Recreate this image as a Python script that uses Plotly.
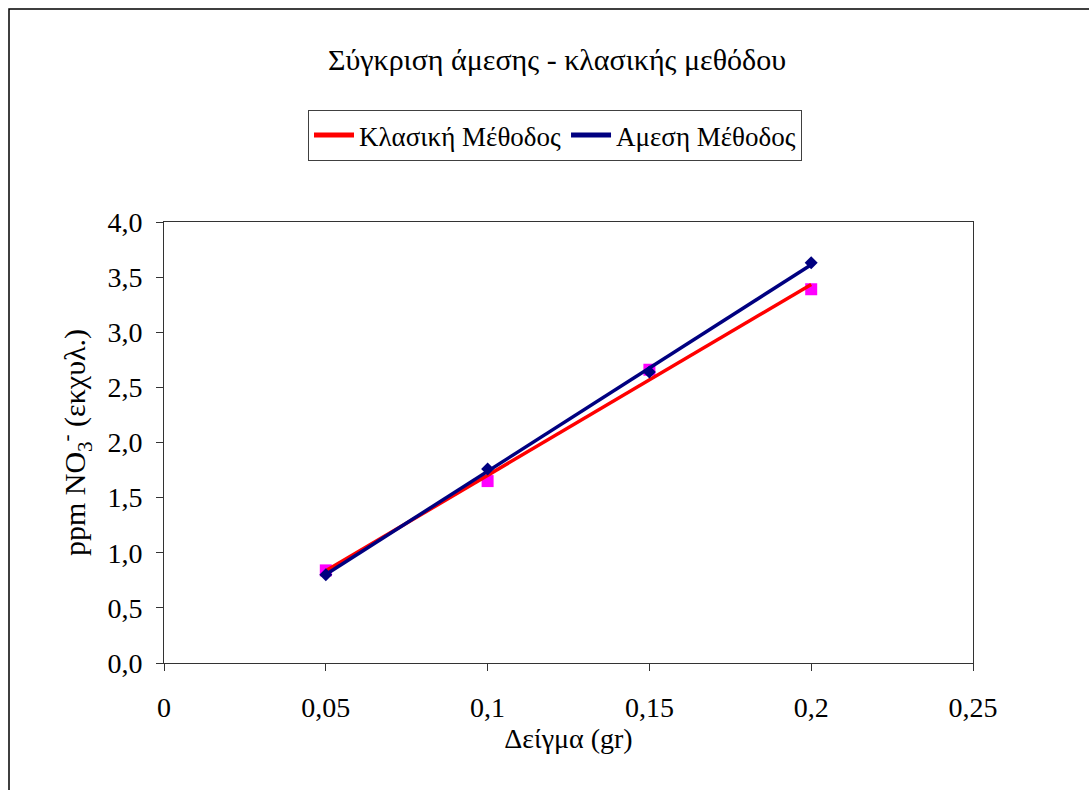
import numpy as np
import plotly.graph_objects as go

# Data
sample_gr = [0.05, 0.10, 0.15, 0.20]
classic_ppm = [0.84, 1.65, 2.66, 3.39]   # Κλασική Μέθοδος (magenta squares)
direct_ppm = [0.80, 1.76, 2.64, 3.63]    # Άμεση Μέθοδος (navy diamonds)

x_tickvals = [0, 0.05, 0.10, 0.15, 0.20, 0.25]
x_ticktext = ["0", "0,05", "0,1", "0,15", "0,2", "0,25"]
y_tickvals = [0.0, 0.5, 1.0, 1.5, 2.0, 2.5, 3.0, 3.5, 4.0]
y_ticktext = ["0,0", "0,5", "1,0", "1,5", "2,0", "2,5", "3,0", "3,5", "4,0"]

FONT = "Liberation Serif"

# Linear trendlines (as Excel draws them)
xs = np.array(sample_gr)
x_end = [float(xs.min()), float(xs.max())]
c_fit = np.polyfit(xs, np.array(classic_ppm), 1)
d_fit = np.polyfit(xs, np.array(direct_ppm), 1)

fig = go.Figure()
fig.add_trace(go.Scatter(x=sample_gr, y=classic_ppm, mode="markers",
                         marker=dict(symbol="square", size=12, color="#FF00FF"),
                         showlegend=False, hoverinfo="skip"))
fig.add_trace(go.Scatter(x=x_end, y=[float(v) for v in np.polyval(c_fit, x_end)], mode="lines",
                         line=dict(color="#FF0000", width=3.5),
                         name="Κλασική Μέθοδος"))
fig.add_trace(go.Scatter(x=x_end, y=[float(v) for v in np.polyval(d_fit, x_end)], mode="lines",
                         line=dict(color="#000080", width=3.5),
                         name="Αμεση Μέθοδος"))
fig.add_trace(go.Scatter(x=sample_gr, y=direct_ppm, mode="markers",
                         marker=dict(symbol="diamond", size=10, color="#000080"),
                         showlegend=False, hoverinfo="skip"))

L, R, T, B = 164, 116, 222, 127
W, H = 1089, 790
pw, ph = W - L - R, H - T - B

fig.update_layout(
    width=W, height=H,
    margin=dict(l=L, r=R, t=T, b=B),
    paper_bgcolor="white", plot_bgcolor="white",
    font=dict(family=FONT, size=26, color="black"),
    title=dict(text="Σύγκριση άμεσης - κλασικής μεθόδου",
               x=(557 / W), xanchor="center", y=1 - 59 / H, yanchor="middle",
               font=dict(size=30, family=FONT, color="black")),
    legend=dict(orientation="h", x=(555 - L) / pw, xanchor="center",
                y=(H - B - 110) / ph, yanchor="top",
                bordercolor="#404040", borderwidth=1, bgcolor="white",
                font=dict(size=27, family=FONT, color="black"), itemwidth=40,
                tracegroupgap=0, itemsizing="constant"),
    xaxis=dict(range=[0, 0.25], tickvals=x_tickvals, ticktext=x_ticktext,
               showgrid=False, zeroline=False, showline=True, mirror=True,
               linecolor="#333333", linewidth=1, ticks="outside", ticklen=7,
               tickcolor="#333333", ticklabelstandoff=12,
               tickfont=dict(family=FONT, size=28, color="black"),
               title=dict(text="Δείγμα (gr)", standoff=0,
                          font=dict(family=FONT, size=28, color="black"))),
    yaxis=dict(range=[0, 4.0], tickvals=y_tickvals, ticktext=y_ticktext,
               showgrid=False, zeroline=False, showline=True, mirror=True,
               linecolor="#333333", linewidth=1, ticks="outside", ticklen=7,
               tickcolor="#333333", ticklabelstandoff=8,
               tickfont=dict(family=FONT, size=28, color="black"),
               title=dict(text="ppm NO<sub>3</sub><sup>-</sup> (εκχυλ.)",
                          standoff=12,
                          font=dict(family=FONT, size=30, color="black"))),
    shapes=[dict(type="rect", xref="paper", yref="paper",
                 x0=(9 - L) / pw, x1=(W + 20 - L) / pw,
                 y0=(H - B - (H + 20)) / ph, y1=(H - B - 9) / ph,
                 line=dict(color="black", width=1.5), layer="below")],
)

fig.write_html("out.html")
